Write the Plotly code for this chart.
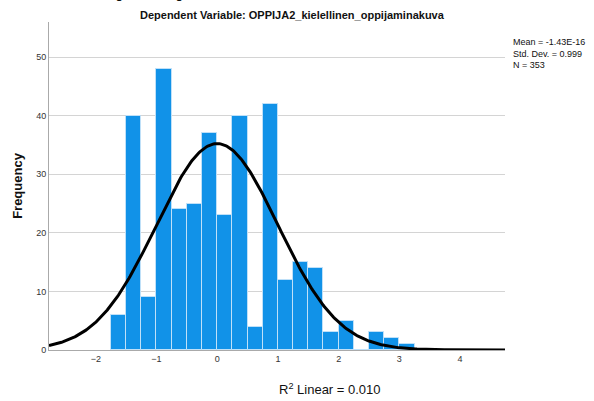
import numpy as np
import plotly.graph_objects as go

# Histogram data (bin width 0.25, starting at -1.75)
bin_left = [-1.75, -1.5, -1.25, -1.0, -0.75, -0.5, -0.25, 0.0, 0.25, 0.5,
            0.75, 1.0, 1.25, 1.5, 1.75, 2.0, 2.25, 2.5, 2.75, 3.0]
counts = [6, 40, 9, 48, 24, 25, 37, 23, 40, 4,
          42, 12, 15, 14, 3, 5, 0, 3, 2, 1]
bin_width = 0.25
mean_val = -1.43e-16
std_val = 0.999
n_val = 353

x_tickvals = [-2, -1, 0, 1, 2, 3, 4]
y_tickvals = [0, 10, 20, 30, 40, 50]

FONT = "Liberation Sans"

centers = [b + bin_width / 2 for b in bin_left]

xr = [-2.77, 4.74]
xs = np.linspace(xr[0], xr[1], 400)
ys = n_val * bin_width / (std_val * np.sqrt(2 * np.pi)) * np.exp(-0.5 * ((xs - mean_val) / std_val) ** 2)

fig = go.Figure()
fig.add_trace(go.Bar(
    x=centers, y=counts, width=bin_width,
    marker=dict(color="#1192e8", line=dict(color="#bfe0f8", width=1)),
    hoverinfo="x+y",
))
fig.add_trace(go.Scatter(x=xs, y=ys, mode="lines", line=dict(color="black", width=3)))

fig.update_layout(
    width=594, height=401,
    margin=dict(l=49, r=89, t=22, b=51),
    paper_bgcolor="white", plot_bgcolor="white",
    showlegend=False,
    font=dict(family=FONT, color="#222"),
    bargap=0,
)
fig.update_xaxes(
    range=xr, tickvals=x_tickvals, ticks="", showgrid=False,
    showline=True, linecolor="#aaaaaa", linewidth=1,
    tickfont=dict(size=9, color="#333"), zeroline=False,
)
fig.update_yaxes(
    range=[0, 56], tickvals=y_tickvals, ticks="", showgrid=True,
    gridcolor="#d4d4d4", gridwidth=1,
    showline=True, linecolor="#aaaaaa", linewidth=1,
    tickfont=dict(size=9, color="#333"), zeroline=False,
    title=dict(text="<b>Frequency</b>", font=dict(size=13, color="#111"), standoff=10),
)

fig.add_annotation(
    text="<b>Histogram of Regression Standardized Residual</b>",
    xref="paper", yref="paper", x=(218 - 49) / 456, y=1, yshift=19,
    showarrow=False, font=dict(size=11.5, color="#111"),
    xanchor="center", yanchor="bottom",
)
fig.add_annotation(
    text="<b>Dependent Variable: OPPIJA2_kielellinen_oppijaminakuva</b>",
    xref="paper", yref="paper", x=(292 - 49) / 456, y=1, yshift=22 - 15,
    showarrow=False, font=dict(size=11, color="#111"),
    xanchor="center", yanchor="middle",
)
fig.add_annotation(
    text=f"Mean = -1.43E-16<br>Std. Dev. = {std_val}<br>N = {n_val}",
    xref="paper", yref="paper", x=1, xshift=6, y=1, yshift=-13,
    showarrow=False, align="left", xanchor="left", yanchor="top",
    font=dict(size=9, color="#111"),
)
fig.add_annotation(
    text="R<sup>2</sup> Linear = 0.010",
    xref="paper", yref="paper", x=(330 - 49) / 456, y=0, yshift=-39,
    showarrow=False, xanchor="center", yanchor="middle",
    font=dict(size=13, color="#111"),
)

fig.write_html("out.html")
